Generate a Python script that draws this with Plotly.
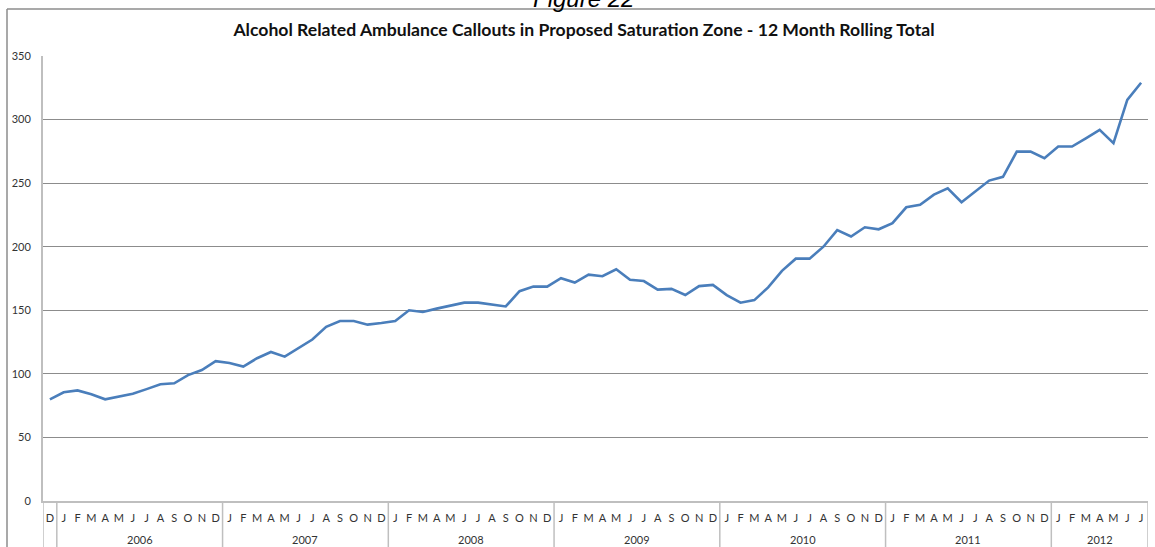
import plotly.graph_objects as go

# 12 month rolling total, Dec 2005 .. Jul 2012
callouts = [80,
            85.5, 87, 84, 80, 82.4, 84.4, 88, 91.8, 92.6, 99, 103, 110,
            108.6, 105.7, 112.3, 117.2, 113.5, 120, 127, 137, 141.6, 141.6, 138.7, 140,
            141.6, 150, 148.7, 151.3, 153.4, 156, 156, 154.5, 153, 165, 168.6, 168.6,
            175.2, 171.8, 178, 176.8, 182.3, 174, 173, 166.3, 166.8, 162, 169, 170,
            162, 156, 158, 168, 181, 190.6, 190.6, 200, 213, 208, 215.3, 213.7,
            218.5, 231, 232.9, 241, 246, 235, 243.6, 252, 255, 274.8, 274.8, 269.6,
            278.8, 278.8, 285.3, 291.9, 281.4, 315.5, 329]

month_letters = ['J', 'F', 'M', 'A', 'M', 'J', 'J', 'A', 'S', 'O', 'N', 'D']
years = ['2006', '2007', '2008', '2009', '2010', '2011', '2012']
months_in_year = [12, 12, 12, 12, 12, 12, 7]

month_labels = ['D']
for n in months_in_year:
    month_labels += month_letters[:n]

x = list(range(len(callouts)))

W, H = 1155, 547
L, R, T, B = 43, 7, 56, 46
pw, ph = W - L - R, H - T - B


def px_x(p):
    return (p - L) / pw


def px_y(p):
    return (H - B - p) / ph


fig = go.Figure()
fig.add_trace(go.Scatter(x=x, y=callouts, mode='lines',
                         line=dict(color='#4a7ebb', width=2.6),
                         hoverinfo='y'))

shapes = []
annotations = []
grey = '#bfbfbf'

# year group dividers and labels
start = 0.5
edges = [-0.5, 0.5]
for yr, n in zip(years, months_in_year):
    annotations.append(dict(x=start + n / 2, y=px_y(539), xref='x', yref='paper',
                            text=yr, showarrow=False, yanchor='middle',
                            font=dict(size=11, color='#333333', family='Lato')))
    start += n
    edges.append(start)
for e in edges:
    shapes.append(dict(type='line', xref='x', yref='paper', x0=e, x1=e,
                       y0=0, y1=px_y(H), line=dict(color=grey, width=1.5)))

# outer chart frame
shapes.append(dict(type='line', xref='paper', yref='paper', x0=px_x(7), x1=px_x(W),
                   y0=px_y(9), y1=px_y(9), line=dict(color='#8c8c8c', width=1.5)))
shapes.append(dict(type='line', xref='paper', yref='paper', x0=px_x(7), x1=px_x(7),
                   y0=px_y(9), y1=px_y(H), line=dict(color='#8c8c8c', width=1.5)))

# caption above the chart, mostly cut off in the source image
annotations.append(dict(x=px_x(583), y=px_y(14), xref='paper', yref='paper',
                        text='<i>Figure 22</i>', showarrow=False, yanchor='bottom',
                        font=dict(size=24, color='#000000', family='Liberation Sans')))

fig.update_layout(
    width=W, height=H,
    margin=dict(l=L, r=R, t=T, b=B),
    paper_bgcolor='white', plot_bgcolor='white',
    showlegend=False,
    title=dict(text='<b>Alcohol Related Ambulance Callouts in Proposed Saturation Zone - 12 Month Rolling Total</b>',
               x=584 / W, xanchor='center', y=1 - 30 / H, yanchor='middle',
               font=dict(size=17.6, color='#111111', family='Lato')),
    xaxis=dict(range=[-0.5, len(callouts) - 0.5], tickmode='array',
               tickvals=x, ticktext=month_labels, showgrid=False,
               showline=True, linecolor=grey, linewidth=2, ticks='',
               ticklabelstandoff=6, zeroline=False,
               tickfont=dict(size=11, color='#333333', family='Lato')),
    yaxis=dict(range=[0, 350], dtick=50, showgrid=True, gridcolor='#8c8c8c',
               gridwidth=1, showline=True, linecolor=grey, linewidth=2,
               ticks='', ticklabelstandoff=8, zeroline=False,
               tickfont=dict(size=11, color='#333333', family='Lato')),
    shapes=shapes,
    annotations=annotations,
)

fig.write_html("out.html", config={'displayModeBar': False},
               post_script="document.body.style.margin='0';")
